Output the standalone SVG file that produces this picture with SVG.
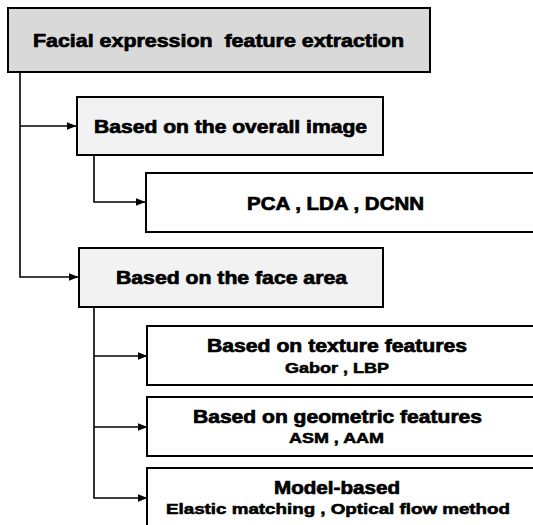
<svg xmlns="http://www.w3.org/2000/svg" width="533" height="525" viewBox="0 0 533 525">
  <style>
    .box { stroke: #000; stroke-width: 2; }
    .root { fill: #d9d9d9; }
    .mid { fill: #f2f2f2; }
    .leaf { fill: #ffffff; }
    .t { font-family: "Liberation Sans", Arial, sans-serif; font-weight: bold; fill: #000; stroke: #000; stroke-width: 0.7; text-anchor: middle; white-space: pre; }
    .big { font-size: 18.5px; }
    .small { font-size: 14.5px; stroke-width: 0.55; }
    .wire { fill: none; stroke: #000; stroke-width: 1.6; }
  </style>
  <defs>
    <marker id="arrow" markerWidth="10" markerHeight="8" refX="9.5" refY="4" orient="auto" markerUnits="userSpaceOnUse">
      <path d="M0,0 L10,4 L0,8 Z" fill="#000"/>
    </marker>
  </defs>

  <rect width="533" height="525" fill="#fff"/>

  <g id="connectors">
    <path class="wire" d="M20,72 V277 H78" marker-end="url(#arrow)"/>
    <path class="wire" d="M20,126 H76" marker-end="url(#arrow)"/>
    <path class="wire" d="M94,155 V202 H145" marker-end="url(#arrow)"/>
    <path class="wire" d="M94,307 V498 H147" marker-end="url(#arrow)"/>
    <path class="wire" d="M94,356 H147" marker-end="url(#arrow)"/>
    <path class="wire" d="M94,427 H147" marker-end="url(#arrow)"/>
  </g>

  <g id="root">
    <rect class="box root" x="8" y="8" width="422" height="64"/>
    <text class="t big" x="218.5" y="47" textLength="371" lengthAdjust="spacingAndGlyphs">Facial expression  feature extraction</text>
  </g>

  <g id="overall-image">
    <rect class="box mid" x="77" y="97" width="306" height="58"/>
    <text class="t big" x="230.5" y="133" textLength="273" lengthAdjust="spacingAndGlyphs">Based on the overall image</text>
  </g>

  <g id="pca-lda-dcnn">
    <rect class="box leaf" x="146" y="173" width="400" height="59"/>
    <text class="t big" x="335.5" y="210" textLength="177" lengthAdjust="spacingAndGlyphs">PCA , LDA , DCNN</text>
  </g>

  <g id="face-area">
    <rect class="box mid" x="79" y="248" width="304" height="59"/>
    <text class="t big" x="231.5" y="284" textLength="231" lengthAdjust="spacingAndGlyphs">Based on the face area</text>
  </g>

  <g id="texture">
    <rect class="box leaf" x="147" y="326" width="400" height="59"/>
    <text class="t big" x="337" y="352" textLength="260" lengthAdjust="spacingAndGlyphs">Based on texture features</text>
    <text class="t small" x="337" y="372.5" textLength="104" lengthAdjust="spacingAndGlyphs">Gabor , LBP</text>
  </g>

  <g id="geometric">
    <rect class="box leaf" x="147" y="397" width="400" height="59"/>
    <text class="t big" x="337.5" y="423" textLength="289" lengthAdjust="spacingAndGlyphs">Based on geometric features</text>
    <text class="t small" x="336.5" y="443" textLength="95" lengthAdjust="spacingAndGlyphs">ASM , AAM</text>
  </g>

  <g id="model-based">
    <rect class="box leaf" x="147" y="468" width="400" height="70"/>
    <text class="t big" x="337" y="494" textLength="126" lengthAdjust="spacingAndGlyphs">Model-based</text>
    <text class="t small" x="338" y="514" textLength="344" lengthAdjust="spacingAndGlyphs">Elastic matching , Optical flow method</text>
  </g>
</svg>
